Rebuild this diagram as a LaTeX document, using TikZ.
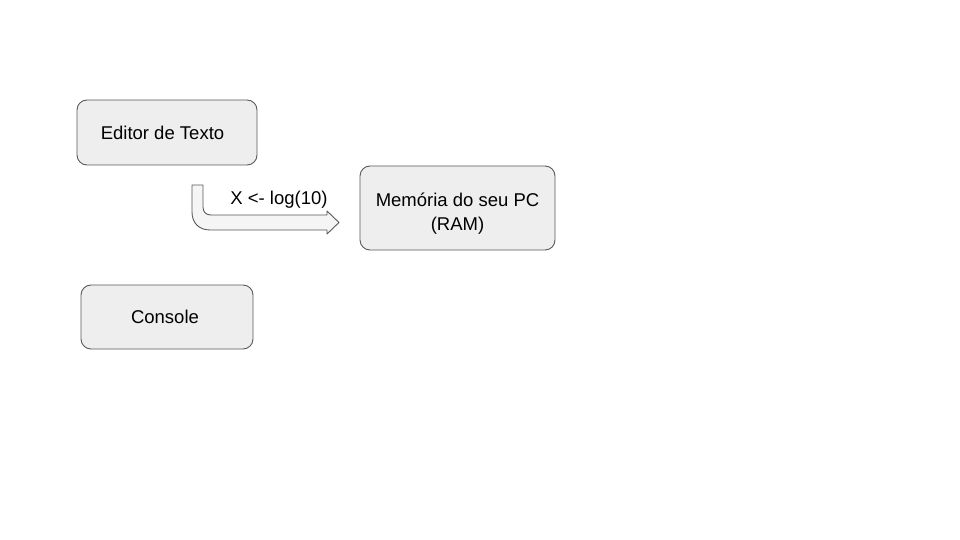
\documentclass[tikz,border=0pt]{standalone}
\usepackage{fontspec}
\setmainfont{Liberation Sans}
\definecolor{boxfill}{HTML}{EEEEEE}
\definecolor{boxline}{HTML}{595959}
\tikzset{
	caixa/.style={draw=boxline, fill=boxfill, rounded corners=10pt, line width=0.9pt, align=center, inner sep=0pt},
	seta/.style={draw=boxline, fill=boxfill!60, line width=0.9pt, line join=round}
}
\begin{document}
\begin{tikzpicture}[x=1pt, y=-1pt, font=\fontsize{18.5}{24}\selectfont]
		\useasboundingbox[fill=white] (0,0) rectangle (960,540);
		\node[caixa, minimum width=180pt, minimum height=65pt] (editor) at (167,132.5) {Editor de Texto\hspace{9pt}};
		\node[caixa, minimum width=195pt, minimum height=84pt] (memoria) at (457.5,208) {\rule{0pt}{24pt}Memória do seu PC\\(RAM)};
		\node[caixa, minimum width=172pt, minimum height=64pt] (console) at (167,317) {Console\hspace{4pt}};
		
		\filldraw[seta] (192,185) -- (192,212) .. controls (192,223) and (199,230) .. (210,230) -- (327,230) -- (327,234) -- (339,222.5) -- (327,211) -- (327,215) -- (211,215) .. controls (206,215) and (203,212) .. (203,207) -- (203,185) -- cycle;
		\node (comando) at (279,200) {X <- log(10)};
	\end{tikzpicture}
\end{document}
